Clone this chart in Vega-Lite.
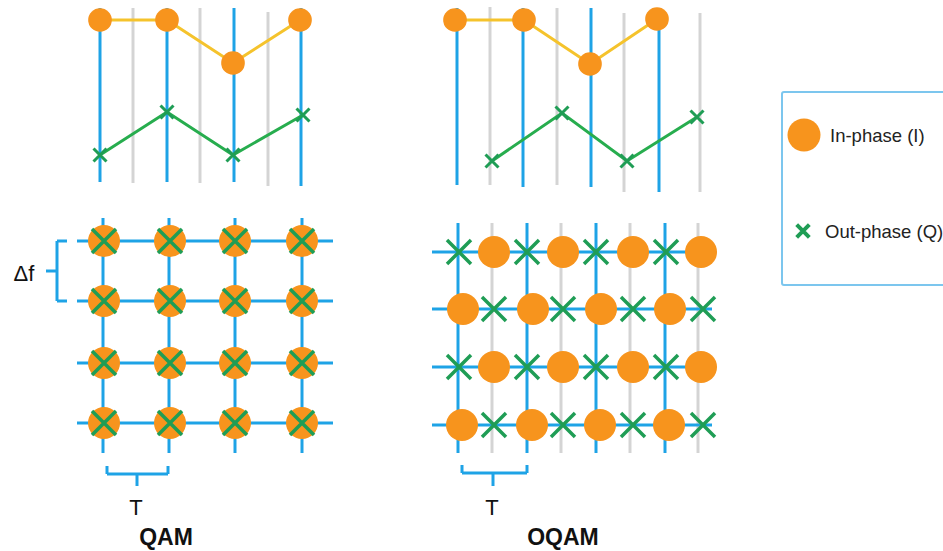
{
  "$schema": "https://vega.github.io/schema/vega-lite/v6.json",
  "width": 943,
  "height": 551,
  "padding": 0,
  "autosize": {"type": "none"},
  "config": {"view": {"stroke": null}},
  "background": "white",
  "datasets": {
    "segs": [
      {"x": 100, "y": 8, "x2": 100, "y2": 182, "k": "blue"},
      {"x": 167, "y": 8, "x2": 167, "y2": 182, "k": "blue"},
      {"x": 234, "y": 8, "x2": 234, "y2": 182, "k": "blue"},
      {"x": 301, "y": 8, "x2": 301, "y2": 186, "k": "blue"},
      {"x": 133, "y": 8, "x2": 133, "y2": 183, "k": "gray"},
      {"x": 200, "y": 8, "x2": 200, "y2": 183, "k": "gray"},
      {"x": 268, "y": 12, "x2": 268, "y2": 186, "k": "gray"},
      {"x": 457, "y": 8, "x2": 457, "y2": 185, "k": "blue"},
      {"x": 523, "y": 8, "x2": 523, "y2": 187, "k": "blue"},
      {"x": 591, "y": 8, "x2": 591, "y2": 187, "k": "blue"},
      {"x": 659, "y": 8, "x2": 659, "y2": 192, "k": "blue"},
      {"x": 490, "y": 7, "x2": 490, "y2": 185, "k": "gray"},
      {"x": 557, "y": 8, "x2": 557, "y2": 185, "k": "gray"},
      {"x": 624, "y": 13, "x2": 624, "y2": 192, "k": "gray"},
      {"x": 700, "y": 13, "x2": 700, "y2": 192, "k": "gray"},
      {"x": 77, "y": 241, "x2": 333, "y2": 241, "k": "blue"},
      {"x": 77, "y": 301, "x2": 333, "y2": 301, "k": "blue"},
      {"x": 77, "y": 363, "x2": 333, "y2": 363, "k": "blue"},
      {"x": 77, "y": 423, "x2": 333, "y2": 423, "k": "blue"},
      {"x": 103, "y": 218, "x2": 103, "y2": 453, "k": "blue"},
      {"x": 169, "y": 218, "x2": 169, "y2": 453, "k": "blue"},
      {"x": 235, "y": 218, "x2": 235, "y2": 453, "k": "blue"},
      {"x": 302, "y": 218, "x2": 302, "y2": 453, "k": "blue"},
      {"x": 432, "y": 252, "x2": 712, "y2": 252, "k": "blue"},
      {"x": 432, "y": 309, "x2": 712, "y2": 309, "k": "blue"},
      {"x": 432, "y": 367, "x2": 712, "y2": 367, "k": "blue"},
      {"x": 432, "y": 425, "x2": 712, "y2": 425, "k": "blue"},
      {"x": 458, "y": 223, "x2": 458, "y2": 453, "k": "blue"},
      {"x": 527, "y": 223, "x2": 527, "y2": 453, "k": "blue"},
      {"x": 596, "y": 223, "x2": 596, "y2": 453, "k": "blue"},
      {"x": 665, "y": 223, "x2": 665, "y2": 453, "k": "blue"},
      {"x": 492, "y": 223, "x2": 492, "y2": 453, "k": "gray"},
      {"x": 561, "y": 223, "x2": 561, "y2": 453, "k": "gray"},
      {"x": 630, "y": 223, "x2": 630, "y2": 453, "k": "gray"},
      {"x": 698, "y": 223, "x2": 698, "y2": 453, "k": "gray"},
      {"x": 57, "y": 241, "x2": 57, "y2": 301, "k": "blue"},
      {"x": 57, "y": 241, "x2": 67, "y2": 241, "k": "blue"},
      {"x": 57, "y": 301, "x2": 67, "y2": 301, "k": "blue"},
      {"x": 46, "y": 271, "x2": 57, "y2": 271, "k": "blue"},
      {"x": 107, "y": 474, "x2": 168, "y2": 474, "k": "blue"},
      {"x": 107, "y": 466, "x2": 107, "y2": 474, "k": "blue"},
      {"x": 168, "y": 466, "x2": 168, "y2": 474, "k": "blue"},
      {"x": 137, "y": 474, "x2": 137, "y2": 486, "k": "blue"},
      {"x": 462, "y": 473, "x2": 527, "y2": 473, "k": "blue"},
      {"x": 462, "y": 465, "x2": 462, "y2": 473, "k": "blue"},
      {"x": 527, "y": 465, "x2": 527, "y2": 473, "k": "blue"},
      {"x": 493, "y": 473, "x2": 493, "y2": 486, "k": "blue"}
    ],
    "series": [
      {"x": 100, "y": 20, "s": "tlI", "o": 1},
      {"x": 167, "y": 20, "s": "tlI", "o": 2},
      {"x": 233, "y": 63, "s": "tlI", "o": 3},
      {"x": 300, "y": 20, "s": "tlI", "o": 4},
      {"x": 100, "y": 155, "s": "tlQ", "o": 1},
      {"x": 167, "y": 112, "s": "tlQ", "o": 2},
      {"x": 233, "y": 155, "s": "tlQ", "o": 3},
      {"x": 303, "y": 115, "s": "tlQ", "o": 4},
      {"x": 455, "y": 20, "s": "trI", "o": 1},
      {"x": 524, "y": 20, "s": "trI", "o": 2},
      {"x": 590, "y": 64, "s": "trI", "o": 3},
      {"x": 657, "y": 19, "s": "trI", "o": 4},
      {"x": 492, "y": 161, "s": "trQ", "o": 1},
      {"x": 562, "y": 113, "s": "trQ", "o": 2},
      {"x": 627, "y": 161, "s": "trQ", "o": 3},
      {"x": 697, "y": 117, "s": "trQ", "o": 4}
    ],
    "dots": [
      {"x": 100, "y": 20, "g": "top"},
      {"x": 167, "y": 20, "g": "top"},
      {"x": 233, "y": 63, "g": "top"},
      {"x": 300, "y": 20, "g": "top"},
      {"x": 455, "y": 20, "g": "top"},
      {"x": 524, "y": 20, "g": "top"},
      {"x": 590, "y": 64, "g": "top"},
      {"x": 657, "y": 19, "g": "top"},
      {"x": 104, "y": 241, "g": "grid"},
      {"x": 170, "y": 241, "g": "grid"},
      {"x": 235, "y": 241, "g": "grid"},
      {"x": 302, "y": 241, "g": "grid"},
      {"x": 104, "y": 301, "g": "grid"},
      {"x": 170, "y": 301, "g": "grid"},
      {"x": 235, "y": 301, "g": "grid"},
      {"x": 302, "y": 301, "g": "grid"},
      {"x": 104, "y": 363, "g": "grid"},
      {"x": 170, "y": 363, "g": "grid"},
      {"x": 235, "y": 363, "g": "grid"},
      {"x": 302, "y": 363, "g": "grid"},
      {"x": 104, "y": 423, "g": "grid"},
      {"x": 170, "y": 423, "g": "grid"},
      {"x": 235, "y": 423, "g": "grid"},
      {"x": 302, "y": 423, "g": "grid"},
      {"x": 494, "y": 252, "g": "grid"},
      {"x": 563, "y": 252, "g": "grid"},
      {"x": 633, "y": 252, "g": "grid"},
      {"x": 701, "y": 252, "g": "grid"},
      {"x": 463, "y": 309, "g": "grid"},
      {"x": 533, "y": 309, "g": "grid"},
      {"x": 601, "y": 309, "g": "grid"},
      {"x": 670, "y": 309, "g": "grid"},
      {"x": 494, "y": 367, "g": "grid"},
      {"x": 563, "y": 367, "g": "grid"},
      {"x": 633, "y": 367, "g": "grid"},
      {"x": 701, "y": 367, "g": "grid"},
      {"x": 462, "y": 425, "g": "grid"},
      {"x": 532, "y": 425, "g": "grid"},
      {"x": 600, "y": 425, "g": "grid"},
      {"x": 669, "y": 425, "g": "grid"},
      {"x": 804, "y": 135, "g": "leg"}
    ],
    "crosses": [
      {"x": 100, "y": 155, "g": "top"},
      {"x": 167, "y": 112, "g": "top"},
      {"x": 233, "y": 155, "g": "top"},
      {"x": 303, "y": 115, "g": "top"},
      {"x": 492, "y": 161, "g": "top"},
      {"x": 562, "y": 113, "g": "top"},
      {"x": 627, "y": 161, "g": "top"},
      {"x": 697, "y": 117, "g": "top"},
      {"x": 104, "y": 241, "g": "grid"},
      {"x": 170, "y": 241, "g": "grid"},
      {"x": 235, "y": 241, "g": "grid"},
      {"x": 302, "y": 241, "g": "grid"},
      {"x": 104, "y": 301, "g": "grid"},
      {"x": 170, "y": 301, "g": "grid"},
      {"x": 235, "y": 301, "g": "grid"},
      {"x": 302, "y": 301, "g": "grid"},
      {"x": 104, "y": 363, "g": "grid"},
      {"x": 170, "y": 363, "g": "grid"},
      {"x": 235, "y": 363, "g": "grid"},
      {"x": 302, "y": 363, "g": "grid"},
      {"x": 104, "y": 423, "g": "grid"},
      {"x": 170, "y": 423, "g": "grid"},
      {"x": 235, "y": 423, "g": "grid"},
      {"x": 302, "y": 423, "g": "grid"},
      {"x": 459, "y": 252, "g": "grid"},
      {"x": 527, "y": 252, "g": "grid"},
      {"x": 596, "y": 252, "g": "grid"},
      {"x": 666, "y": 252, "g": "grid"},
      {"x": 494, "y": 309, "g": "grid"},
      {"x": 563, "y": 309, "g": "grid"},
      {"x": 633, "y": 309, "g": "grid"},
      {"x": 703, "y": 309, "g": "grid"},
      {"x": 459, "y": 367, "g": "grid"},
      {"x": 527, "y": 367, "g": "grid"},
      {"x": 596, "y": 367, "g": "grid"},
      {"x": 666, "y": 367, "g": "grid"},
      {"x": 494, "y": 425, "g": "grid"},
      {"x": 563, "y": 425, "g": "grid"},
      {"x": 633, "y": 425, "g": "grid"},
      {"x": 703, "y": 425, "g": "grid"},
      {"x": 803, "y": 231, "g": "leg"}
    ],
    "labels": [
      {"x": 24, "y": 274, "t": "Δf", "g": "plain"},
      {"x": 136, "y": 508, "t": "T", "g": "plain"},
      {"x": 492, "y": 508, "t": "T", "g": "plain"},
      {"x": 166, "y": 538, "t": "QAM", "g": "bold"},
      {"x": 563, "y": 538, "t": "OQAM", "g": "bold"},
      {"x": 830, "y": 136, "t": "In-phase (I)", "g": "leg"},
      {"x": 825, "y": 232, "t": "Out-phase (Q)", "g": "leg"}
    ],
    "box": [{"x": 782, "y": 92, "x2": 965, "y2": 285}]
  },
  "encoding": {
    "x": {"field": "x", "type": "quantitative", "scale": {"domain": [0, 943], "nice": false, "zero": false}, "axis": null},
    "y": {"field": "y", "type": "quantitative", "scale": {"domain": [551, 0], "nice": false, "zero": false}, "axis": null}
  },
  "layer": [
    {
      "data": {"name": "box"},
      "mark": {"type": "rect", "fill": "white", "stroke": "#7cc6ee", "strokeWidth": 2, "cornerRadius": 2},
      "encoding": {"x2": {"field": "x2"}, "y2": {"field": "y2"}}
    },
    {
      "data": {"name": "segs"},
      "transform": [{"filter": "datum.k === 'gray'"}],
      "mark": {"type": "rule", "color": "#d4d4d4", "strokeWidth": 3},
      "encoding": {"x2": {"field": "x2"}, "y2": {"field": "y2"}}
    },
    {
      "data": {"name": "segs"},
      "transform": [{"filter": "datum.k === 'blue'"}],
      "mark": {"type": "rule", "color": "#1ea3e6", "strokeWidth": 3},
      "encoding": {"x2": {"field": "x2"}, "y2": {"field": "y2"}}
    },
    {
      "data": {"name": "series"},
      "transform": [{"filter": "datum.s === 'tlI' || datum.s === 'trI'"}],
      "mark": {"type": "line", "color": "#f5c32c", "strokeWidth": 3},
      "encoding": {"detail": {"field": "s"}, "order": {"field": "o"}}
    },
    {
      "data": {"name": "series"},
      "transform": [{"filter": "datum.s === 'tlQ' || datum.s === 'trQ'"}],
      "mark": {"type": "line", "color": "#27ad4e", "strokeWidth": 3},
      "encoding": {"detail": {"field": "s"}, "order": {"field": "o"}}
    },
    {
      "data": {"name": "dots"},
      "transform": [{"filter": "datum.g === 'top'"}],
      "mark": {"type": "point", "shape": "circle", "filled": true, "color": "#f7941d", "opacity": 1, "size": 560}
    },
    {
      "data": {"name": "dots"},
      "transform": [{"filter": "datum.g === 'grid'"}],
      "mark": {"type": "point", "shape": "circle", "filled": true, "color": "#f7941d", "opacity": 1, "size": 1024}
    },
    {
      "data": {"name": "dots"},
      "transform": [{"filter": "datum.g === 'leg'"}],
      "mark": {"type": "point", "shape": "circle", "filled": true, "color": "#f7941d", "opacity": 1, "size": 1089}
    },
    {
      "data": {"name": "crosses"},
      "transform": [{"filter": "datum.g === 'top'"}],
      "mark": {"type": "point", "shape": "M-1,-1L1,1M1,-1L-1,1", "filled": false, "color": "#1f9d55", "opacity": 1, "strokeWidth": 3, "size": 169}
    },
    {
      "data": {"name": "crosses"},
      "transform": [{"filter": "datum.g === 'grid'"}],
      "mark": {"type": "point", "shape": "M-1,-1L1,1M1,-1L-1,1", "filled": false, "color": "#1f9d55", "opacity": 1, "strokeWidth": 3.5, "size": 576}
    },
    {
      "data": {"name": "crosses"},
      "transform": [{"filter": "datum.g === 'leg'"}],
      "mark": {"type": "point", "shape": "M-1,-1L1,1M1,-1L-1,1", "filled": false, "color": "#1f9d55", "opacity": 1, "strokeWidth": 4, "size": 160}
    },
    {
      "data": {"name": "labels"},
      "transform": [{"filter": "datum.g === 'plain'"}],
      "mark": {"type": "text", "font": "Liberation Sans", "fontSize": 22, "color": "#111111", "align": "center", "baseline": "middle"},
      "encoding": {"text": {"field": "t"}}
    },
    {
      "data": {"name": "labels"},
      "transform": [{"filter": "datum.g === 'bold'"}],
      "mark": {"type": "text", "font": "Liberation Sans", "fontSize": 23, "fontWeight": "bold", "color": "#111111", "align": "center", "baseline": "middle"},
      "encoding": {"text": {"field": "t"}}
    },
    {
      "data": {"name": "labels"},
      "transform": [{"filter": "datum.g === 'leg'"}],
      "mark": {"type": "text", "font": "Liberation Sans", "fontSize": 18.5, "color": "#222222", "align": "left", "baseline": "middle"},
      "encoding": {"text": {"field": "t"}}
    }
  ]
}
